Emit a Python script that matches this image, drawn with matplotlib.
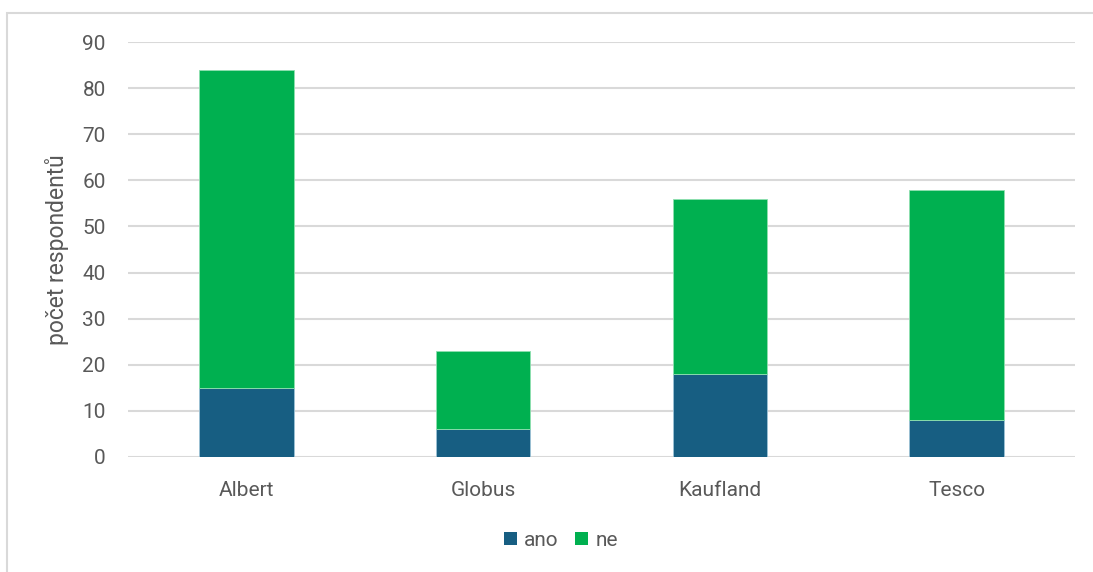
import matplotlib
matplotlib.use("Agg")
import matplotlib.pyplot as plt
from matplotlib.patches import Rectangle, Patch

stores = ["Albert", "Globus", "Kaufland", "Tesco"]
ano = [15, 6, 18, 8]
ne = [69, 17, 38, 50]
y_ticks = [0, 10, 20, 30, 40, 50, 60, 70, 80, 90]

c_ano = "#175E82"
c_ne = "#00B050"
txt = "#595959"
grid = "#D9D9D9"

plt.rcParams["font.family"] = ["Roboto", "DejaVu Sans"]
fs = 15

W, H = 1093, 572
fig = plt.figure(figsize=(W / 100, H / 100), dpi=100)

# outer chart frame (runs off the right and bottom edges)
fig.patches.append(Rectangle((7 / W, -0.1), 1.2, 1 - 13 / H + 0.1,
                             transform=fig.transFigure, fill=False,
                             edgecolor=grid, linewidth=1.5))

ax = fig.add_axes([128 / W, 1 - 457 / H, (1075 - 128) / W, (457 - 42) / H])
x = range(len(stores))
ax.bar(x, ano, width=0.4, color=c_ano, edgecolor="#9DC3D6", linewidth=0.6, zorder=3)
ax.bar(x, ne, width=0.4, bottom=ano, color=c_ne, edgecolor="#8FE0B0", linewidth=0.6, zorder=3)

ax.set_xlim(-0.5, len(stores) - 0.5)
ax.set_ylim(0, 90)
ax.set_yticks(y_ticks)
ax.set_xticks(list(x))
ax.set_xticklabels(stores)
ax.yaxis.grid(True, color=grid, linewidth=1.5, zorder=0)
ax.set_axisbelow(True)
for s in ax.spines.values():
    s.set_visible(False)
ax.tick_params(axis="both", length=0, labelsize=fs, colors=txt)
ax.tick_params(axis="y", pad=16)
ax.tick_params(axis="x", pad=17)
ax.set_ylabel("počet respondentů", fontsize=16.5, color=txt, labelpad=10)

handles = [Patch(facecolor=c_ano, label="ano"), Patch(facecolor=c_ne, label="ne")]
fig.legend(handles=handles, loc="center", bbox_to_anchor=(561 / W, 1 - 540 / H),
           ncol=2, frameon=False, fontsize=fs, labelcolor=txt,
           handlelength=0.6, handleheight=0.6, handletextpad=0.35, columnspacing=0.8)

fig.savefig("out.png", dpi=100, facecolor="white")
